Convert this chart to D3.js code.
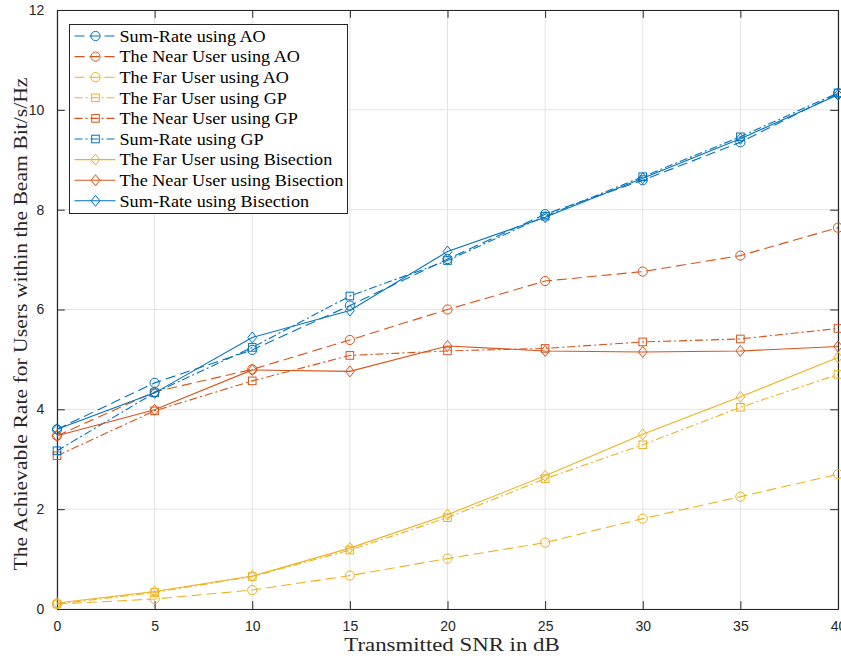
<!DOCTYPE html>
<html>
<head>
<meta charset="utf-8">
<script src="https://cdn.jsdelivr.net/npm/d3@7"></script>
<style>
  html, body { margin: 0; padding: 0; background: #fff; }
  svg { display: block; }
</style>
</head>
<body>
<svg id="chart" width="841" height="658"></svg>
<script>
// Transmitted SNR (dB) on the x axis
const snr = [0, 5, 10, 15, 20, 25, 30, 35, 40];

// Achievable rate (bit/s/Hz) for each scheme
const sumAO       = [3.60, 4.53, 5.19, 6.08, 7.01, 7.91, 8.59, 9.35, 10.33];
const nearAO      = [3.47, 4.35, 4.80, 5.39, 6.00, 6.57, 6.76, 7.08, 7.64];
const farAO       = [0.10, 0.20, 0.38, 0.67, 1.01, 1.33, 1.81, 2.25, 2.70];
const farGP       = [0.10, 0.33, 0.65, 1.18, 1.83, 2.61, 3.29, 4.04, 4.70];
const nearGP      = [3.07, 3.97, 4.57, 5.08, 5.17, 5.22, 5.35, 5.41, 5.62];
const sumGP       = [3.17, 4.33, 5.24, 6.27, 6.98, 7.87, 8.66, 9.46, 10.34];
const farBisec    = [0.12, 0.35, 0.66, 1.22, 1.89, 2.67, 3.50, 4.25, 5.04];
const nearBisec   = [3.47, 3.99, 4.79, 4.76, 5.27, 5.17, 5.15, 5.17, 5.26];
const sumBisec    = [3.60, 4.33, 5.44, 5.98, 7.16, 7.85, 8.63, 9.42, 10.30];

const xTicks = [0, 5, 10, 15, 20, 25, 30, 35, 40];
const yTicks = [0, 2, 4, 6, 8, 10, 12];

const blue = "#0072BD", orange = "#D95319", yellow = "#EDB120";

const series = [
  { name: "Sum-Rate using AO",             values: sumAO,     color: blue,   dash: "10,5",      marker: "circle"  },
  { name: "The Near User using AO",        values: nearAO,    color: orange, dash: "10,5",      marker: "circle"  },
  { name: "The Far User using AO",         values: farAO,     color: yellow, dash: "10,5",      marker: "circle"  },
  { name: "The Far User using GP",         values: farGP,     color: yellow, dash: "8,3,2,3",   marker: "square"  },
  { name: "The Near User using GP",        values: nearGP,    color: orange, dash: "8,3,2,3",   marker: "square"  },
  { name: "Sum-Rate using GP",             values: sumGP,     color: blue,   dash: "8,3,2,3",   marker: "square"  },
  { name: "The Far User using Bisection",  values: farBisec,  color: yellow, dash: null,        marker: "diamond" },
  { name: "The Near User using Bisection", values: nearBisec, color: orange, dash: null,        marker: "diamond" },
  { name: "Sum-Rate using Bisection",      values: sumBisec,  color: blue,   dash: null,        marker: "diamond" }
];

const svg = d3.select("#chart");
const plotLeft = 57, plotRight = 838, plotTop = 10, plotBottom = 609;

const x = d3.scaleLinear().domain([0, 40]).range([plotLeft, plotRight]);
const y = d3.scaleLinear().domain([0, 12]).range([plotBottom, plotTop]);

const axisColor = "#262626";
const tickFont = "'Liberation Sans', Arial, Helvetica, sans-serif";
const serif = "'Liberation Serif', 'Times New Roman', serif";

// Widen serif text a little so it sets like a LaTeX roman face
function widen(sel, factor) {
  sel.each(function () {
    const w = this.getComputedTextLength();
    d3.select(this).attr("textLength", w * factor).attr("lengthAdjust", "spacingAndGlyphs");
  });
}

// Grid
const grid = svg.append("g");
grid.selectAll("line.gx").data(xTicks).join("line")
  .attr("x1", d => x(d)).attr("x2", d => x(d))
  .attr("y1", plotTop).attr("y2", plotBottom)
  .attr("stroke", "#e3e3e3").attr("stroke-width", 1);
grid.selectAll("line.gy").data(yTicks).join("line")
  .attr("x1", plotLeft).attr("x2", plotRight)
  .attr("y1", d => y(d)).attr("y2", d => y(d))
  .attr("stroke", "#e3e3e3").attr("stroke-width", 1);

// Axes with inward ticks on all four sides
const tickLen = 7.8;
const axB = d3.axisBottom(x).tickValues(xTicks).tickSizeInner(-tickLen).tickSizeOuter(0).tickPadding(tickLen + 4);
const axL = d3.axisLeft(y).tickValues(yTicks).tickSizeInner(-tickLen).tickSizeOuter(0).tickPadding(tickLen + 5);
const axT = d3.axisTop(x).tickValues(xTicks).tickSizeInner(-tickLen).tickSizeOuter(0).tickFormat("");
const axR = d3.axisRight(y).tickValues(yTicks).tickSizeInner(-tickLen).tickSizeOuter(0).tickFormat("");

function styleAxis(g) {
  g.selectAll("path.domain").attr("stroke", axisColor).attr("stroke-width", 1.2);
  g.selectAll(".tick line").attr("stroke", axisColor).attr("stroke-width", 1);
  g.selectAll(".tick text").attr("fill", axisColor)
    .style("font-family", tickFont).style("font-size", "14px");
}
svg.append("g").attr("transform", `translate(0,${plotBottom})`).call(axB).call(styleAxis);
svg.append("g").attr("transform", `translate(${plotLeft},0)`).call(axL).call(styleAxis);
svg.append("g").attr("transform", `translate(0,${plotTop})`).call(axT).call(styleAxis);
svg.append("g").attr("transform", `translate(${plotRight},0)`).call(axR).call(styleAxis);

// Marker drawing
function drawMarker(g, type, cx, cy, color) {
  if (type === "circle") {
    g.append("circle").attr("cx", cx).attr("cy", cy).attr("r", 4.6)
      .attr("fill", "none").attr("stroke", color).attr("stroke-width", 1);
  } else if (type === "square") {
    g.append("rect").attr("x", cx - 3.8).attr("y", cy - 3.8).attr("width", 7.6).attr("height", 7.6)
      .attr("fill", "none").attr("stroke", color).attr("stroke-width", 1);
  } else {
    g.append("path").attr("d", `M${cx},${cy - 5.5}L${cx + 4.4},${cy}L${cx},${cy + 5.5}L${cx - 4.4},${cy}Z`)
      .attr("fill", "none").attr("stroke", color).attr("stroke-width", 1);
  }
}

// Series lines and markers
const line = d3.line().x((d, i) => x(snr[i])).y(d => y(d));
const plot = svg.append("g");
series.forEach(s => {
  plot.append("path").datum(s.values)
    .attr("d", line)
    .attr("fill", "none")
    .attr("stroke", s.color)
    .attr("stroke-width", 1.1)
    .attr("stroke-dasharray", s.dash);
  const mg = plot.append("g");
  s.values.forEach((v, i) => drawMarker(mg, s.marker, x(snr[i]), y(v), s.color));
});

// Legend
const lg = svg.append("g");
const lgX = 69.5, lgY = 24.5, lgW = 278, lgH = 189, rowH = 20.6;
lg.append("rect").attr("x", lgX).attr("y", lgY).attr("width", lgW).attr("height", lgH)
  .attr("fill", "#fff").attr("stroke", axisColor).attr("stroke-width", 1);
series.forEach((s, i) => {
  const cy = lgY + 11.5 + i * rowH;
  lg.append("line").attr("x1", lgX + 5).attr("x2", lgX + 46).attr("y1", cy).attr("y2", cy)
    .attr("stroke", s.color).attr("stroke-width", 1.1).attr("stroke-dasharray", s.dash);
  drawMarker(lg, s.marker, lgX + 26, cy, s.color);
  lg.append("text").attr("class", "lgtext").attr("x", lgX + 50).attr("y", cy).attr("dy", "0.35em")
    .attr("fill", "#000").style("font-family", serif).style("font-size", "16.5px")
    .text(s.name);
});
widen(lg.selectAll("text.lgtext"), 1.1);

// Axis titles
const xTitle = svg.append("text").attr("x", 452).attr("y", 651)
  .attr("text-anchor", "middle").attr("fill", axisColor)
  .style("font-family", serif).style("font-size", "19.5px")
  .text("Transmitted SNR in dB");
widen(xTitle, 1.17);
const yTitle = svg.append("text")
  .attr("transform", `translate(27,324) rotate(-90)`)
  .attr("text-anchor", "middle").attr("fill", axisColor)
  .style("font-family", serif).style("font-size", "19.5px")
  .text("The Achievable Rate for Users within the Beam Bit/s/Hz");
widen(yTitle, 1.11);
</script>
</body>
</html>
